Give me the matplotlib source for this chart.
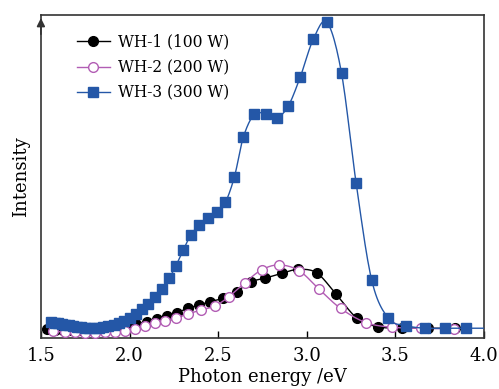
import numpy as np
import matplotlib
matplotlib.use("Agg")
import matplotlib.pyplot as plt

# photon energy (eV) and intensity (a.u.)
e1 = [1.534, 1.579, 1.624, 1.672, 1.723, 1.774, 1.824, 1.878, 1.932, 1.985,
      2.039, 2.097, 2.153, 2.209, 2.266, 2.331, 2.393, 2.454, 2.529, 2.604,
      2.683, 2.764, 2.858, 2.952, 3.056, 3.166, 3.282, 3.404, 3.537, 3.686, 3.836]
i1 = [2.85, 2.63, 2.53, 2.53, 2.59, 2.69, 2.85, 3.16, 3.48, 3.96,
      4.59, 5.32, 6.08, 7.12, 8.16, 9.56, 10.60, 11.65, 12.72, 14.81,
      17.88, 19.05, 20.57, 21.84, 20.73, 13.99, 6.49, 3.64, 3.39, 3.23, 3.23]

e2 = [1.569, 1.635, 1.692, 1.748, 1.805, 1.861, 1.918, 1.977, 2.030, 2.087,
      2.143, 2.200, 2.262, 2.331, 2.403, 2.482, 2.561, 2.651, 2.745, 2.843,
      2.956, 3.071, 3.191, 3.334, 3.481, 3.644, 3.831]
i2 = [2.22, 2.06, 1.90, 1.84, 1.84, 1.90, 2.06, 2.37, 3.01, 3.80,
      4.75, 5.60, 6.58, 7.75, 9.02, 10.28, 13.23, 17.66, 21.68, 23.26,
      21.46, 15.51, 9.49, 5.00, 3.54, 3.23, 3.01]

e3 = [1.559, 1.578, 1.597, 1.617, 1.637, 1.658, 1.679, 1.701, 1.725, 1.748,
      1.773, 1.799, 1.825, 1.853, 1.881, 1.910, 1.940, 1.971, 2.002, 2.036,
      2.070, 2.106, 2.143, 2.181, 2.224, 2.262, 2.303, 2.346, 2.393, 2.442,
      2.492, 2.541, 2.592, 2.642, 2.704, 2.768, 2.830, 2.896, 2.964, 3.037,
      3.114, 3.196, 3.278, 3.366, 3.460, 3.560, 3.667, 3.780, 3.896]
i3 = [5.06, 4.91, 4.75, 4.59, 4.34, 4.11, 3.89, 3.70, 3.54, 3.45,
      3.39, 3.39, 3.45, 3.58, 3.80, 4.18, 4.75, 5.54, 6.49, 7.75,
      9.18, 10.92, 13.04, 15.57, 19.05, 23.04, 28.01, 32.75, 35.82, 38.20,
      39.87, 43.10, 51.20, 63.67, 70.95, 70.95, 69.72, 73.58, 82.85, 94.68,
      100.0, 83.92, 49.30, 18.51, 6.39, 4.05, 3.23, 3.23, 3.23]

labels = ["WH-1 (100 W)", "WH-2 (200 W)", "WH-3 (300 W)"]
blue = "#2457a7"
purple = "#b25db4"


def smooth(x, y, n=12):
    # catmull-rom curve through the points
    x = np.asarray(x, float)
    y = np.asarray(y, float)
    px = np.concatenate([[2 * x[0] - x[1]], x, [2 * x[-1] - x[-2]]])
    py = np.concatenate([[2 * y[0] - y[1]], y, [2 * y[-1] - y[-2]]])
    t = np.linspace(0, 1, n, endpoint=False)
    xs, ys = [], []
    for k in range(1, len(px) - 2):
        for arr, out in ((px, xs), (py, ys)):
            p0, p1, p2, p3 = arr[k - 1], arr[k], arr[k + 1], arr[k + 2]
            out.append(0.5 * (2 * p1 + (-p0 + p2) * t
                              + (2 * p0 - 5 * p1 + 4 * p2 - p3) * t ** 2
                              + (-p0 + 3 * p1 - 3 * p2 + p3) * t ** 3))
    xs.append([x[-1]])
    ys.append([y[-1]])
    return np.concatenate(xs), np.concatenate(ys)


plt.rcParams['font.family'] = ['DejaVu Serif']
fig = plt.figure(figsize=(4.99, 3.89), dpi=100)
ax = fig.add_axes([0.082, 0.130, 0.888, 0.832])

sx, sy = smooth(e1, i1)
ax.plot(sx, sy, color='black', lw=1.0, zorder=2)
ax.plot(e1, i1, 'o', color='black', ms=7, zorder=3)

sx, sy = smooth(e2, i2)
ax.plot(sx, sy, color=purple, lw=1.0, zorder=4)
ax.plot(e2, i2, 'o', mfc='white', mec=purple, mew=1.0, ms=7, zorder=5)

sx, sy = smooth(e3, i3)
ax.plot(np.append(sx, 4.0), np.append(sy, i3[-1]), color=blue, lw=1.0, zorder=6)
ax.plot(e3, i3, 's', color=blue, ms=6.5, zorder=7)

# legend handles
h1, = ax.plot([], [], '-o', color='black', ms=7, lw=1.0)
h2, = ax.plot([], [], '-o', color=purple, mfc='white', mec=purple, ms=7, lw=1.0)
h3, = ax.plot([], [], '-s', color=blue, ms=6.5, lw=1.0)
ax.legend([h1, h2, h3], labels, loc='upper left', bbox_to_anchor=(0.05, 0.985),
          frameon=False, fontsize=11.2, handlelength=2.1, handletextpad=0.5,
          labelspacing=0.54)

ax.set_xlim(1.5, 4.0)
ax.set_ylim(0, 102.4)
ax.set_xticks([1.5, 2.0, 2.5, 3.0, 3.5, 4.0])
ax.set_xticklabels(["1.5", "2.0", "2.5", "3.0", "3.5", "4.0"])
ax.set_yticks([])
ax.tick_params(axis='x', direction='in', length=5, width=1.0, labelsize=13, pad=6)
ax.set_xlabel("Photon energy /eV", fontsize=13, labelpad=2)
ax.set_ylabel("Intensity", fontsize=13, labelpad=8)

for s in ax.spines.values():
    s.set_linewidth(1.2)
    s.set_color('#333333')
ax.annotate("", xy=(0, 0.99), xytext=(0, 0.94), xycoords='axes fraction',
            arrowprops=dict(arrowstyle='-|>', color='#333333', lw=1.2,
                            mutation_scale=12, shrinkA=0, shrinkB=0))

fig.savefig("out.png", dpi=100)
